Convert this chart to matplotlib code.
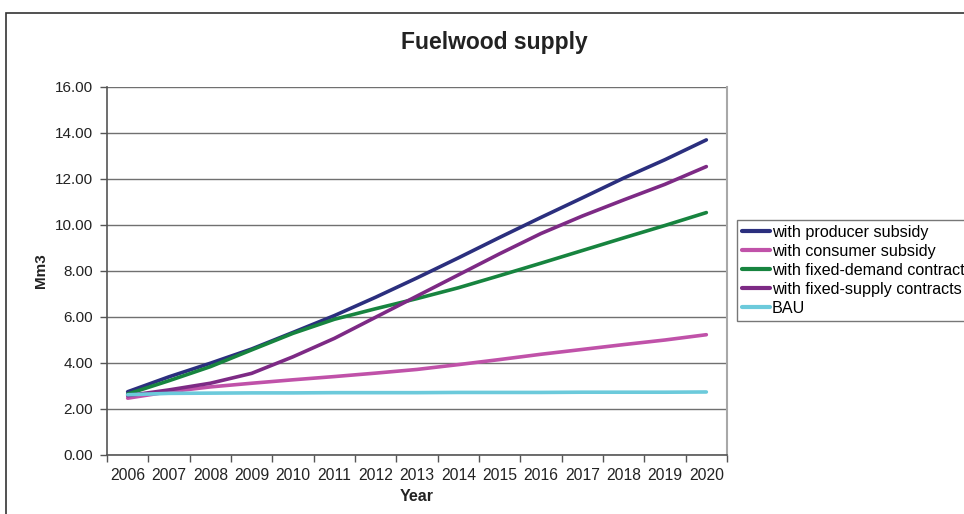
import matplotlib
matplotlib.use("Agg")
import matplotlib.pyplot as plt
from matplotlib.patches import Rectangle
from matplotlib.ticker import FixedLocator, FixedFormatter

plt.rcParams['font.family'] = ['Liberation Sans', 'DejaVu Sans']

years = ["2006", "2007", "2008", "2009", "2010", "2011", "2012", "2013",
         "2014", "2015", "2016", "2017", "2018", "2019", "2020"]

producer_subsidy = [2.75, 3.40, 3.99, 4.61, 5.33, 6.06, 6.86, 7.70,
                    8.57, 9.46, 10.33, 11.18, 12.04, 12.84, 13.70]
consumer_subsidy = [2.47, 2.75, 2.96, 3.12, 3.27, 3.41, 3.56, 3.72,
                    3.93, 4.15, 4.38, 4.59, 4.80, 5.00, 5.23]
fixed_demand = [2.65, 3.23, 3.84, 4.57, 5.29, 5.90, 6.36, 6.80,
                7.27, 7.80, 8.34, 8.89, 9.44, 9.98, 10.54]
fixed_supply = [2.58, 2.83, 3.12, 3.55, 4.27, 5.07, 5.99, 6.91,
                7.83, 8.75, 9.63, 10.39, 11.09, 11.77, 12.54]
bau = [2.62, 2.68, 2.69, 2.70, 2.70, 2.71, 2.71, 2.71,
       2.72, 2.72, 2.72, 2.73, 2.73, 2.73, 2.74]

series = [
    ("with producer subsidy", producer_subsidy, "#2b2f7e"),
    ("with consumer subsidy", consumer_subsidy, "#c052a9"),
    ("with fixed-demand contract", fixed_demand, "#17843f"),
    ("with fixed-supply contracts", fixed_supply, "#7d2a85"),
    ("BAU", bau, "#6ccadb"),
]

W, H = 964, 514
fig = plt.figure(figsize=(W / 100, H / 100), dpi=100)

# outer chart frame (runs off the right and bottom edges)
fig.patches.append(Rectangle((6 / W, -0.05), 1.2, (H - 13) / H + 0.05,
                             transform=fig.transFigure, fill=False,
                             edgecolor="#333333", linewidth=1.2))

ax = fig.add_axes([107 / W, (H - 455) / H, (727 - 107) / W, (455 - 87) / H])

x = list(range(len(years)))
for label, values, color in series:
    ax.plot(x, values, color=color, linewidth=2.6, label=label,
            solid_capstyle="round", solid_joinstyle="round")

ax.set_xlim(-0.5, len(years) - 0.5)
ax.set_ylim(0, 16)

ax.yaxis.set_major_locator(FixedLocator([0, 2, 4, 6, 8, 10, 12, 14, 16]))
ax.yaxis.set_major_formatter(FixedFormatter(
    ["0.00", "2.00", "4.00", "6.00", "8.00", "10.00", "12.00", "14.00", "16.00"]))
ax.grid(axis="y", color="#707070", linewidth=1.0)
ax.set_axisbelow(True)

ax.set_xticks(x)
ax.set_xticklabels(years)
ax.set_xticks([i - 0.5 for i in range(len(years) + 1)], minor=True)
ax.tick_params(axis="x", which="major", length=0, pad=9, labelsize=11.3, colors="#222222")
ax.tick_params(axis="x", which="minor", length=5, width=1, color="#555555")
ax.tick_params(axis="y", which="major", length=5, width=1, color="#555555",
               pad=5, labelsize=11, labelcolor="#222222")

for side in ("left", "bottom"):
    ax.spines[side].set_color("#555555")
    ax.spines[side].set_linewidth(1.2)
ax.spines["top"].set_visible(False)
ax.spines["right"].set_color("#a8a8a8")
ax.spines["right"].set_linewidth(1.5)

fig.text(494 / W, 1 - 43 / H, "Fuelwood supply", fontsize=16.5, fontweight="bold",
         ha="center", va="center", color="#222222")
ax.set_xlabel("Year", fontsize=11.5, fontweight="bold", labelpad=5, color="#222222")
ax.set_ylabel("Mm3", fontsize=11, fontweight="bold", labelpad=5, color="#222222")

leg = fig.legend(loc="upper left", bbox_to_anchor=(737 / W, 1 - 220 / H),
                 fontsize=11.6, frameon=True, fancybox=False, edgecolor="#555555",
                 handlelength=1.75, handletextpad=0.1, labelspacing=0.25,
                 borderpad=0.3, borderaxespad=0)
leg.get_frame().set_linewidth(1.0)
for line in leg.get_lines():
    line.set_linewidth(3.0)

fig.savefig("out.png", dpi=100)
